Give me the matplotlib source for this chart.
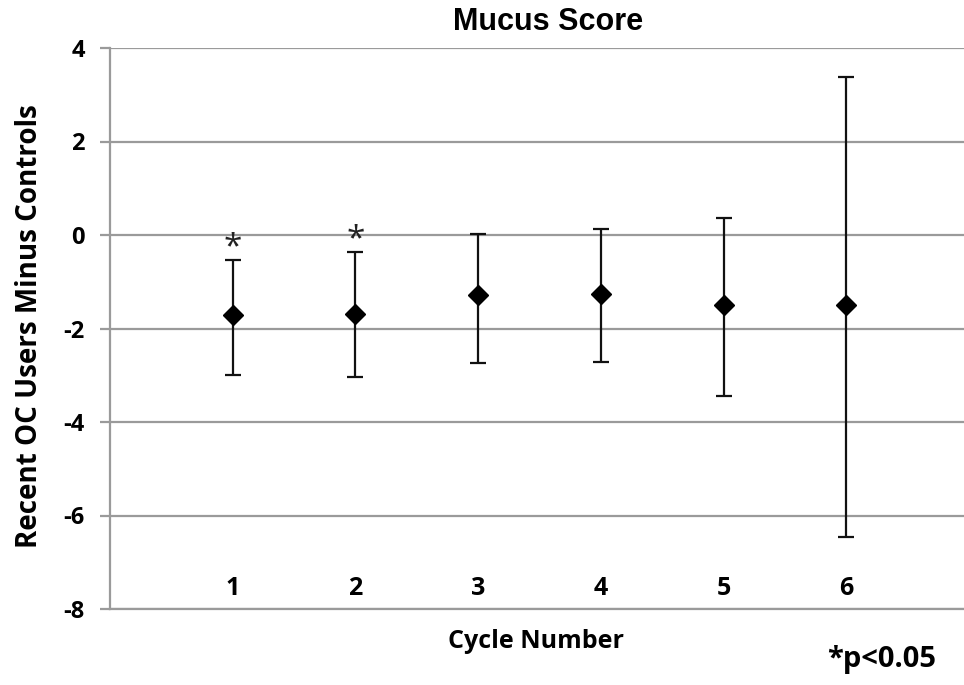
import matplotlib
matplotlib.use("Agg")
import matplotlib.pyplot as plt

cycles = [1, 2, 3, 4, 5, 6]
cycle_labels = ["1", "2", "3", "4", "5", "6"]
mean_diff = [-1.72, -1.70, -1.29, -1.27, -1.49, -1.50]
upper = [-0.53, -0.37, 0.03, 0.13, 0.37, 3.37]
lower = [-2.99, -3.03, -2.74, -2.71, -3.44, -6.47]
significant = [True, True, False, False, False, False]
y_ticks = [4, 2, 0, -2, -4, -6, -8]

plt.rcParams['font.family'] = ['Open Sans', 'DejaVu Sans']
plt.rcParams['font.weight'] = 'bold'

fig = plt.figure(figsize=(9.64, 6.85), dpi=100)
ax = fig.add_axes([110/964, 1-609/685, (969-110)/964, (609-48)/685])

err_lo = [m - l for m, l in zip(mean_diff, lower)]
err_hi = [u - m for m, u in zip(mean_diff, upper)]
ax.errorbar(cycles, mean_diff, yerr=[err_lo, err_hi], fmt='D', color='black',
            markersize=10, ecolor='#111111', elinewidth=1.6, capsize=6, capthick=1.6, zorder=3)

for x, u, s in zip(cycles, upper, significant):
    if s:
        ax.annotate('*', (x, u), xytext=(0, -3), textcoords='offset points',
                    ha='center', va='bottom', fontsize=24, fontweight='normal', color='#222222')

ax.set_xlim(0, 7)
ax.set_ylim(-8, 4)
ax.set_yticks(y_ticks)
ax.set_yticklabels([str(t) for t in y_ticks])
ax.set_xticks(cycles)
ax.set_xticklabels(cycle_labels)
ax.yaxis.grid(True, color='#9a9a9a', linewidth=1.6)
ax.set_axisbelow(True)
for side in ['top', 'right']:
    ax.spines[side].set_visible(False)
ax.spines['left'].set_color('#9a9a9a')
ax.spines['left'].set_linewidth(1.6)
ax.spines['bottom'].set_color('#9a9a9a')
ax.spines['bottom'].set_linewidth(1.6)
ax.tick_params(axis='y', length=7, width=1.6, color='#9a9a9a', labelsize=17, pad=11)
ax.tick_params(axis='x', length=0, labelsize=18, pad=-24)

fig.text(548/964, 1-22/685, 'Mucus Score', ha='center', va='center', fontsize=22,
         fontweight='bold', family=['Liberation Sans', 'DejaVu Sans'])
fig.text(30/964, 1-326/685, 'Recent OC Users Minus Controls', ha='center', va='center',
         rotation=90, fontsize=20, fontweight='bold')
fig.text(536/964, 1-641/685, 'Cycle Number', ha='center', va='center', fontsize=18, fontweight='bold')
fig.text(882/964, 1-660/685, '*p<0.05', ha='center', va='center', fontsize=21, fontweight='bold')

fig.savefig('out.png', dpi=100)
